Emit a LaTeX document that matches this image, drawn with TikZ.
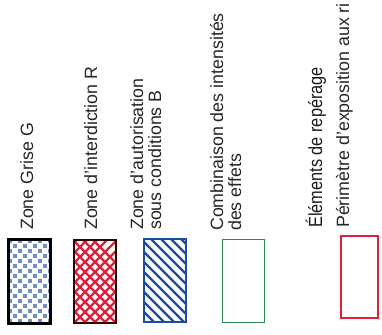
\documentclass[tikz,border=0pt]{standalone}
\usepackage{fontspec}
\setmainfont{Liberation Sans}
\newfontfamily\headfont[FakeStretch=0.86]{Liberation Sans}
\definecolor{rred}{HTML}{E0203A}
\definecolor{bblue}{HTML}{1C4C9E}
\definecolor{gblue}{HTML}{6F8FCB}
\definecolor{ggreen}{HTML}{2E8B57}
\begin{document}
\begin{tikzpicture}[x=1pt,y=1pt,
  lbl/.style={rotate=90, anchor=base west, inner sep=0pt, align=left,
    font=\fontsize{17.8}{18}\selectfont, text=black!85},
  head/.style={rotate=90, anchor=base west, inner sep=0pt,
    font=\headfont\fontsize{19}{22}\selectfont, text=black!90},
  box/.style={minimum width=42pt, minimum height=83pt, inner sep=0pt, outer sep=0pt}]
\useasboundingbox (0,0) rectangle (382,334);

% Zone Grise
\node[box, draw=black, line width=3pt,
  path picture={
    \foreach \i in {0,...,9}{
      \foreach \j in {0,...,17}{
        \pgfmathtruncatemacro{\pp}{mod(\i+\j,2)}
        \ifnum\pp=0
          \fill[gblue] ([shift={(\i*5,\j*5)}]path picture bounding box.south west) rectangle ++(4,4);
        \fi
      }
    }
  }] (g) at (29,52.5) {};

% Zone d'interdiction
\node[box, draw=black!80!red, line width=2.5pt,
  path picture={
    \foreach \i in {-10,...,6}{
      \draw[rred, line width=2.4pt] ([shift={(\i*10,0)}]path picture bounding box.south west) -- ++(90,90);
      \draw[rred, line width=2.4pt] ([shift={(\i*10,0)}]path picture bounding box.south east) -- ++(-90,90);
    }
  }] (r) at (95,52.5) {};

% Zone d'autorisation
\node[box, draw=bblue, line width=2pt,
  path picture={
    \foreach \i in {-1,...,14}{
      \draw[bblue, line width=2.2pt] ([shift={(\i*10,0)}]path picture bounding box.south west) -- ++(-90,90);
    }
  }] (b) at (165,53.5) {};

% Combinaison
\node[box, draw=ggreen, line width=1pt] (c) at (243.5,53) {};

% Perimetre
\node[box, minimum width=37pt, minimum height=82pt, draw=rred, line width=2pt] (p) at (359.5,57) {};

\node[lbl] (t1) at (33,104) {Zone Grise G};
\node[lbl] (t2) at (97,104) {Zone d'interdiction R};
\node[lbl] (t3) at (161,104) {Zone d'autorisation\\sous conditions B};
\node[lbl] (t4) at (241,103) {Combinaison des intensités\\des effets};
\node[head] (t5) at (322,106) {Éléments de repérage};
\node[lbl] (t6) at (349,106) {Périmètre d'exposition aux ri};
\end{tikzpicture}
\end{document}
